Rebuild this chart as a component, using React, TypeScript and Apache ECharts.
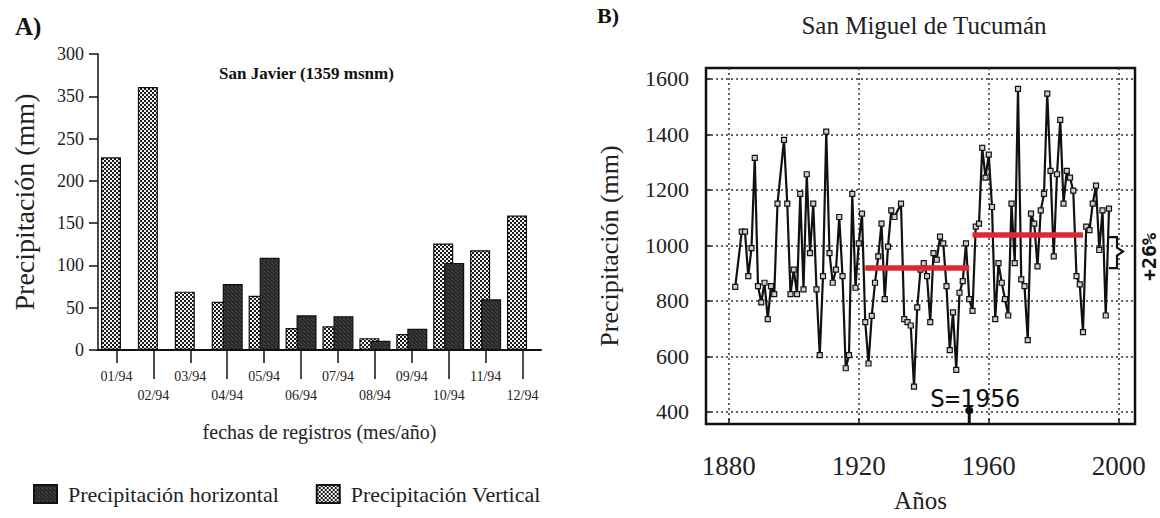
import React, { useEffect, useRef } from "react";
import * as echarts from "echarts";

const SERIF = '"Liberation Serif", "Times New Roman", serif';
const MONO = '"DejaVu Sans Mono", "Liberation Mono", monospace';

// ---------- Panel A: San Javier ----------
const months = ["01/94", "02/94", "03/94", "04/94", "05/94", "06/94", "07/94", "08/94", "09/94", "10/94", "11/94", "12/94"];
const verticalPrecip = [228, 311, 69, 57, 64, 26, 28, 14, 19, 126, 118, 159];
const horizontalPrecip = [null, null, null, 78, 109, 41, 40, 11, 25, 103, 60, null];
const barTickValues = [0, 50, 100, 150, 200, 250, 300, 350];
const barTickLabels = ["0", "50", "100", "150", "200", "250", "350", "300"];

// ---------- Panel B: San Miguel de Tucumán ----------
const years = [
  1882, 1884, 1885, 1886, 1887, 1888, 1889, 1890, 1891, 1892, 1893, 1894, 1895, 1897, 1898, 1899, 1900,
  1901, 1902, 1903, 1904, 1905, 1906, 1907, 1908, 1909, 1910, 1911, 1912, 1913, 1914, 1915, 1916, 1917,
  1918, 1919, 1920, 1921, 1922, 1923, 1924, 1925, 1926, 1927, 1928, 1929, 1930, 1931, 1933, 1934, 1935,
  1936, 1937, 1938, 1939, 1940, 1941, 1942, 1943, 1944, 1945, 1946, 1947, 1948, 1949, 1950, 1951, 1952,
  1953, 1954, 1955, 1956, 1957, 1958, 1959, 1960, 1961, 1962, 1963, 1964, 1965, 1966, 1967, 1968, 1969,
  1970, 1971, 1972, 1973, 1974, 1975, 1976, 1977, 1978, 1979, 1980, 1981, 1982, 1983, 1984, 1985, 1986,
  1987, 1988, 1989, 1990, 1991, 1992, 1993, 1994, 1995, 1996, 1997,
];
const tucumanPrecip = [
  850, 1049, 1049, 889, 990, 1315, 853, 794, 865, 734, 853, 824, 1150, 1380, 1150, 824, 912,
  824, 1185, 841, 1256, 972, 1150, 841, 604, 889, 1410, 972, 865, 912, 1102, 889, 557, 604,
  1185, 847, 1007, 1114, 723, 574, 746, 865, 960, 1078, 806, 995, 1126, 1102, 1150, 734, 723,
  711, 491, 776, 912, 936, 889, 723, 972, 948, 1031, 1007, 853, 622, 758, 551, 829, 871,
  1007, 806, 764, 1067, 1078, 1351, 1244, 1327, 1138, 734, 936, 865, 806, 747, 1150, 936, 1564,
  877, 853, 658, 1114, 1078, 924, 1126, 1185, 1547, 1268, 960, 1256, 1452, 1150, 1268, 1244, 1197,
  889, 859, 687, 1067, 1055, 1150, 1215, 983, 1126, 747, 1132,
];
const meanBeforeYears = [1922, 1954];
const meanBeforeValue = 918;
const meanAfterYears = [1955, 1989];
const meanAfterValue = 1037;
const changeYear = 1954;
const changeMarkValue = 405;
const yearTicks = [1880, 1920, 1960, 2000];
const precipTicks = [400, 600, 800, 1000, 1200, 1400, 1600];
const yearMin = 1873;
const yearMax = 2005;
const precipMin = 356;
const precipMax = 1639;

function makeChecker(): HTMLCanvasElement {
  const c = document.createElement("canvas");
  c.width = 4;
  c.height = 4;
  const ctx = c.getContext("2d")!;
  ctx.fillStyle = "#f4f4f4";
  ctx.fillRect(0, 0, 4, 4);
  ctx.fillStyle = "#1a1a1a";
  ctx.fillRect(0, 0, 2, 2);
  ctx.fillRect(2, 2, 2, 2);
  return c;
}

function makeDark(): HTMLCanvasElement {
  const c = document.createElement("canvas");
  c.width = 4;
  c.height = 4;
  const ctx = c.getContext("2d")!;
  ctx.fillStyle = "#2a2a2a";
  ctx.fillRect(0, 0, 4, 4);
  ctx.fillStyle = "#4c4c4c";
  ctx.fillRect(1, 0, 1, 1);
  ctx.fillRect(3, 2, 1, 1);
  ctx.fillRect(0, 3, 1, 1);
  return c;
}

const plain = (v: number) => String(v);

export default function App() {
  const ref = useRef<HTMLDivElement>(null);

  useEffect(() => {
    if (!ref.current) return;
    const chart = echarts.init(ref.current, null, { renderer: "svg" });
    const checker = { image: makeChecker(), repeat: "repeat", imageWidth: 4, imageHeight: 4 } as any;
    const dark = { image: makeDark(), repeat: "repeat", imageWidth: 4, imageHeight: 4 } as any;

    const catLabel = { fontFamily: SERIF, fontSize: 14, color: "#222" };
    const dotted = { type: [2, 3] as any, color: "#333", width: 1.5 };

    chart.setOption({
      animation: false,
      backgroundColor: "#fff",
      textStyle: { fontFamily: SERIF },
      grid: [
        { left: 98, top: 54, width: 443, height: 296 },
        { left: 706, top: 68, width: 429, height: 362, show: true, borderColor: "#111", borderWidth: 2.5, backgroundColor: "transparent" },
      ],
      legend: {
        left: 28,
        top: 478,
        icon: "rect",
        itemWidth: 23,
        itemHeight: 18,
        itemGap: 37,
        data: ["Precipitación horizontal", "Precipitación Vertical"],
        textStyle: { fontFamily: SERIF, fontSize: 22, color: "#222", padding: [0, 0, 0, 6] },
      },
      xAxis: [
        {
          gridIndex: 0,
          type: "category",
          data: months,
          axisLine: { show: true, lineStyle: { color: "#111", width: 2 } },
          axisTick: { show: true, alignWithLabel: true, interval: (i: number) => i % 2 === 0, length: 13, lineStyle: { color: "#111", width: 1.5 } },
          axisLabel: { ...catLabel, interval: (i: number) => i % 2 === 0, margin: 19 },
          name: "fechas de registros (mes/año)",
          nameLocation: "middle",
          nameGap: 72,
          nameTextStyle: { fontFamily: SERIF, fontSize: 20, color: "#222" },
        },
        {
          gridIndex: 0,
          type: "category",
          position: "bottom",
          data: months,
          axisLine: { show: false },
          axisTick: { show: true, alignWithLabel: true, interval: (i: number) => i % 2 === 1, length: 29, lineStyle: { color: "#111", width: 1.5 } },
          axisLabel: { ...catLabel, interval: (i: number) => i % 2 === 1, margin: 38 },
        },
        {
          gridIndex: 1,
          type: "value",
          min: yearMin,
          max: yearMax,
          axisLine: { show: false },
          axisTick: { show: true, inside: true, length: 5, customValues: yearTicks, lineStyle: { color: "#111", width: 1.5 } },
          axisLabel: { customValues: yearTicks, formatter: plain, margin: 28, fontFamily: SERIF, fontSize: 27, color: "#222" },
          splitLine: { show: true, lineStyle: dotted },
          name: "Años",
          nameLocation: "middle",
          nameGap: 64,
          nameTextStyle: { fontFamily: SERIF, fontSize: 25, color: "#222" },
        },
      ],
      yAxis: [
        {
          gridIndex: 0,
          type: "value",
          min: 0,
          max: 350,
          interval: 50,
          axisLine: { show: true, lineStyle: { color: "#111", width: 1.5 } },
          axisTick: { show: true, length: 9, lineStyle: { color: "#111", width: 1.5 } },
          axisLabel: {
            margin: 14,
            fontFamily: SERIF,
            fontSize: 18,
            color: "#222",
            formatter: (v: number) => barTickLabels[barTickValues.indexOf(v)] ?? String(v),
          },
          splitLine: { show: false },
          name: "Precipitación (mm)",
          nameLocation: "middle",
          nameGap: 60,
          nameTextStyle: { fontFamily: SERIF, fontSize: 28, color: "#222" },
        },
        {
          gridIndex: 1,
          type: "value",
          min: precipMin,
          max: precipMax,
          axisLine: { show: false },
          axisTick: { show: true, inside: true, length: 5, customValues: precipTicks, lineStyle: { color: "#111", width: 1.5 } },
          axisLabel: { customValues: precipTicks, formatter: plain, margin: 17, fontFamily: SERIF, fontSize: 22, color: "#222" },
          splitLine: { show: true, lineStyle: dotted },
          name: "Precipitación (mm)",
          nameLocation: "middle",
          nameGap: 84,
          nameTextStyle: { fontFamily: SERIF, fontSize: 26, color: "#222" },
        },
      ],
      series: [
        {
          name: "Precipitación Vertical",
          type: "bar",
          xAxisIndex: 0,
          yAxisIndex: 0,
          data: verticalPrecip,
          barWidth: 20,
          barGap: "-45%",
          itemStyle: { color: checker, borderColor: "#111", borderWidth: 1.2 },
        },
        {
          name: "Precipitación horizontal",
          type: "bar",
          xAxisIndex: 0,
          yAxisIndex: 0,
          data: horizontalPrecip,
          barWidth: 20,
          barGap: "-45%",
          itemStyle: { color: dark, borderColor: "#111", borderWidth: 1.2 },
        },
        {
          name: "Tucumán",
          type: "line",
          xAxisIndex: 2,
          yAxisIndex: 1,
          data: years.map((y, i) => [y, tucumanPrecip[i]]),
          symbol: "rect",
          symbolSize: 5,
          showAllSymbol: true,
          lineStyle: { color: "#111", width: 2.2 },
          itemStyle: { color: "#cfcfcf", borderColor: "#111", borderWidth: 1.2 },
          z: 3,
        },
        {
          name: "Media 1",
          type: "line",
          xAxisIndex: 2,
          yAxisIndex: 1,
          data: meanBeforeYears.map((y) => [y, meanBeforeValue]),
          symbol: "none",
          lineStyle: { color: "#dc2a33", width: 5.5 },
          z: 5,
        },
        {
          name: "Media 2",
          type: "line",
          xAxisIndex: 2,
          yAxisIndex: 1,
          data: meanAfterYears.map((y) => [y, meanAfterValue]),
          symbol: "none",
          lineStyle: { color: "#dc2a33", width: 5.5 },
          z: 5,
        },
        {
          name: "Cambio",
          type: "line",
          xAxisIndex: 2,
          yAxisIndex: 1,
          data: [
            { value: [changeYear, changeMarkValue], symbol: "circle", symbolSize: 8 },
            { value: [changeYear, precipMin], symbol: "none" },
          ],
          lineStyle: { color: "#111", width: 3 },
          itemStyle: { color: "#111" },
          z: 6,
        },
      ],
    });

    const yAfter = (chart.convertToPixel({ gridIndex: 1 } as any, [2000, meanAfterValue]) as number[])[1];
    const yBefore = (chart.convertToPixel({ gridIndex: 1 } as any, [2000, meanBeforeValue]) as number[])[1];
    const yMid = (yAfter + yBefore) / 2;

    chart.setOption({
      graphic: [
        { type: "text", left: 15, top: 14, style: { text: "A)", font: `bold 25px ${SERIF}`, fill: "#111" } },
        { type: "text", left: 597, top: 4, style: { text: "B)", font: `bold 22px ${SERIF}`, fill: "#111" } },
        { type: "text", x: 219, y: 73, style: { text: "San Javier (1359 msnm)", font: `bold 17px ${SERIF}`, fill: "#111", textAlign: "left", textVerticalAlign: "middle" } },
        { type: "text", x: 924, y: 25, style: { text: "San Miguel de Tucumán", font: `25px ${SERIF}`, fill: "#222", textAlign: "center", textVerticalAlign: "middle" } },
        { type: "text", x: 930, y: 398, style: { text: "S=1956", font: `25px ${MONO}`, fill: "#111", textAlign: "left", textVerticalAlign: "middle" } },
        { type: "text", x: 1149, y: 257, rotation: Math.PI / 2, style: { text: "+26%", font: `bold 20px ${MONO}`, fill: "#111", textAlign: "center", textVerticalAlign: "middle" } },
        {
          type: "polyline",
          shape: {
            points: [
              [1109, yAfter + 2],
              [1117, yAfter + 2],
              [1117, yMid - 4],
              [1123, yMid],
              [1117, yMid + 4],
              [1117, yBefore],
              [1109, yBefore],
            ],
          },
          style: { stroke: "#111", lineWidth: 2.2, fill: null },
        },
      ],
    });

    return () => chart.dispose();
  }, []);

  return <div ref={ref} style={{ position: "fixed", left: 0, top: 0, width: 1160, height: 518 }} />;
}
